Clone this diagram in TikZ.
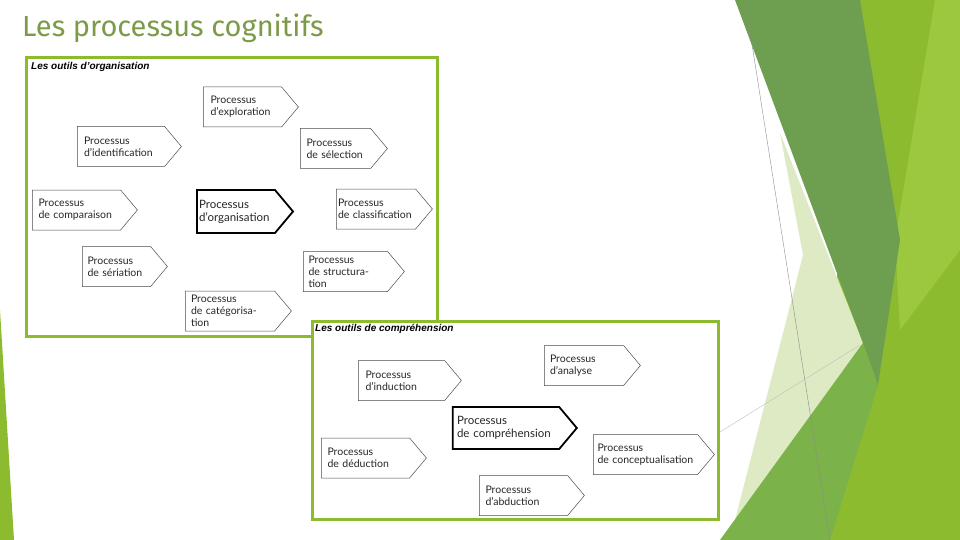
\documentclass[tikz,border=0pt]{standalone}
\usepackage{fontspec}
\setmainfont{Lato}
\newfontfamily\headf{Liberation Sans}
\newfontfamily\titf{Fira Sans}
\usetikzlibrary{shapes.symbols}
\definecolor{lime}{HTML}{8DBB2F}
\definecolor{lime2}{HTML}{9BC83F}
\definecolor{dgreen}{HTML}{6E9E4F}
\definecolor{mgreen}{HTML}{7BB24A}
\definecolor{pale}{HTML}{DDEAC3}
\definecolor{titc}{HTML}{7C9A48}
\begin{document}
\begin{tikzpicture}[x=1pt,y=-1pt,
 proc/.style={signal,signal to=east,draw=black!70,line width=0.5pt,fill=white,
   signal pointer angle=100,minimum height=40,inner sep=0pt,
   font=\fontsize{10.5}{12}\selectfont,align=left,text=black!85},
 main/.style={proc,line width=1.8pt,draw=black,font=\fontsize{11.5}{13}\selectfont},
 frame/.style={draw=lime,line width=3pt,fill=white},
 hdr/.style={font=\headf\bfseries\itshape\fontsize{10}{11}\selectfont,anchor=west,inner sep=0pt}]
\useasboundingbox (0,0) rectangle (960,540);
% background decor
\fill[lime] (855,0) -- (960,0) -- (960,540) -- (820,540) -- cycle;
\fill[lime2] (935,0) -- (960,0) -- (960,250) -- (900,330) -- (895,240) -- cycle;
\fill[pale] (780,133) -- (863,343) -- (740,515) -- (735,520) -- (803,255) -- cycle;
\fill[dgreen] (735,0) -- (860,0) -- (900,240) -- (878,385) -- (863,343) -- cycle;
\fill[mgreen] (720,540) -- (863,343) -- (878,385) -- (830,540) -- cycle;
\draw[black!45,line width=0.4pt] (745,0) -- (830,540);
\draw[black!25,line width=0.4pt] (720,432) -- (860,345);
\fill[lime] (0,310) -- (14,540) -- (0,540) -- cycle;
% title
\node[anchor=west,inner sep=0pt,text=titc,font=\titf\fontsize{29}{30}\selectfont] (title) at (22,28) {Les processus cognitifs};
% frames
\draw[frame] (26,58) rectangle (437,336);
\node[hdr] (h1) at (31,67) {Les outils d’organisation};
\begin{scope}[xshift=-8]
\node[proc,minimum width=95,text width=64] (exp) at (250.5,107) {Processus\\d’exploration};
\node[proc,minimum width=104,text width=74] (ide) at (129,146.5) {Processus\\d’identification};
\node[proc,minimum width=87,text width=58] (sel) at (343.5,148.5) {Processus\\de sélection};
\node[proc,minimum width=105,text width=76] (com) at (84.5,210) {Processus\\de comparaison};
\node[main,minimum width=96,minimum height=43,text width=74] (org) at (244,211.5) {Processus\\d’organisation};
\node[proc,minimum width=96,text width=76] (cla) at (384,209) {Processus\\de classification};
\node[proc,minimum width=85,text width=58] (ser) at (124.5,266.5) {Processus\\de sériation};
\node[proc,minimum width=101,text width=74] (str) at (353.5,271.5) {Processus\\de structuration};
\node[proc,minimum width=106,text width=78] (cat) at (238,311) {Processus\\de catégorisation};
\end{scope}
\draw[frame] (312,321) rectangle (718,519);
\node[hdr] (h2) at (315,329) {Les outils de compréhension};
\begin{scope}[xshift=-8]
\node[proc,minimum width=103,text width=72] (ind) at (409.5,380.5) {Processus\\d’induction};
\node[proc,minimum width=96,text width=68] (ana) at (592,365.5) {Processus\\d’analyse};
\node[main,minimum width=124,minimum height=42,text width=98] (cmp) at (514,428) {Processus\\de compréhension};
\node[proc,minimum width=105,text width=76] (ded) at (373.5,458) {Processus\\de déduction};
\node[proc,minimum width=121,text width=96] (con) at (653.5,454.5) {Processus\\de conceptualisation};
\node[proc,minimum width=105,text width=76] (abd) at (531.5,495.5) {Processus\\d’abduction};
\end{scope}
\end{tikzpicture}
\end{document}
